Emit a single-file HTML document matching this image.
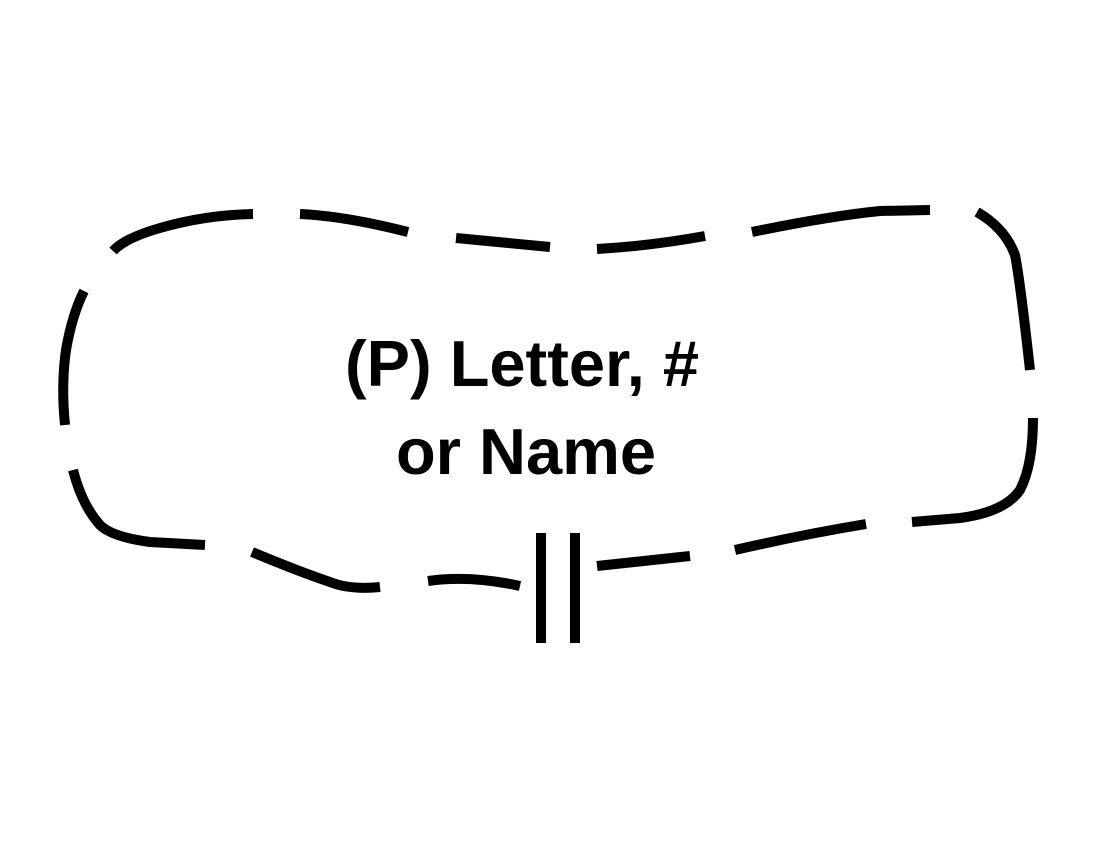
<!DOCTYPE html>
<html><head><meta charset="utf-8"><style>
html,body{margin:0;padding:0;background:#fff;}
svg{display:block;}
</style></head><body>
<svg width="1099" height="851" viewBox="0 0 1099 851" xmlns="http://www.w3.org/2000/svg">
<g fill="none" stroke="#000" stroke-width="10" stroke-linecap="butt" stroke-linejoin="round">
<path d="M113,251 Q125,238 160,228 Q205,215 253,214"/>
<path d="M300,214 Q345,216 408,232"/>
<path d="M456,238 L550,247"/>
<path d="M597,249 Q650,246 705,236"/>
<path d="M752,232 Q830,216 880,211 L930,210"/>
<path d="M977,212 Q1005,228 1015,255 Q1020,280 1030,370"/>
<path d="M1033,418 Q1033,465 1020,490 Q1005,512 960,518 L912,522"/>
<path d="M866,524 Q800,535 735,550"/>
<path d="M690,556 L597,566"/>
<path d="M84,291 Q72,315 66,350 Q61,385 65,425"/>
<path d="M73,470 Q82,505 100,525 Q112,537 150,542 L205,545"/>
<path d="M252,552 Q300,572 330,582 Q350,590 380,587"/>
<path d="M428,581 Q470,575 520,586"/>
</g>
<g stroke="#000" stroke-width="10">
<line x1="541" y1="533" x2="541" y2="643"/>
<line x1="575" y1="533" x2="575" y2="643"/>
</g>
<g font-family="'Liberation Sans',Arial,sans-serif" font-weight="bold" font-size="65" text-anchor="middle" fill="#000">
<text x="522" y="386">(P) Letter, #</text>
<text x="526" y="474">or Name</text>
</g>
</svg>
</body></html>
